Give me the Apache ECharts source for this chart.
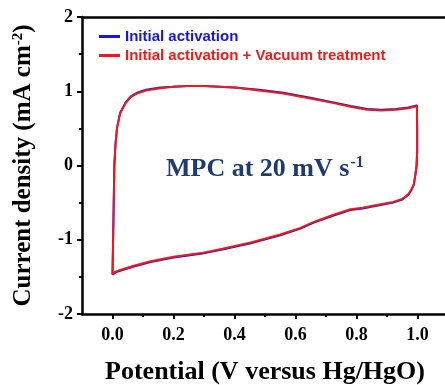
<!DOCTYPE html>
<html>
<head>
<meta charset="utf-8">
<script src="https://cdn.jsdelivr.net/npm/echarts@6/dist/echarts.min.js"></script>
<style>
  html, body { margin: 0; padding: 0; background: #fff; }
  #chart { width: 445px; height: 385px; }
</style>
</head>
<body>
<div id="chart"></div>
<script>
// potential (V) and current density (mA cm-2), anodic then cathodic sweep
const potRed = [0.000, 0.002, 0.004, 0.006, 0.010, 0.015, 0.025, 0.043, 0.060, 0.080, 0.110, 0.157, 0.200, 0.245, 0.300, 0.400, 0.480, 0.560, 0.640, 0.725, 0.780, 0.835, 0.880, 0.930, 0.970, 0.998,
                0.999, 0.999, 0.997, 0.993, 0.988, 0.980, 0.971, 0.950, 0.920, 0.870, 0.820, 0.780, 0.720, 0.660, 0.616, 0.550, 0.450, 0.360, 0.290, 0.200, 0.125, 0.070, 0.030, 0.010, 0.000];
const curRed = [-1.46, -1.00, -0.50, 0.00, 0.30, 0.51, 0.70, 0.84, 0.92, 0.97, 1.01, 1.04, 1.06, 1.07, 1.07, 1.05, 1.01, 0.97, 0.91, 0.84, 0.79, 0.75, 0.74, 0.75, 0.77, 0.80,
                0.50, 0.20, 0.00, -0.12, -0.25, -0.32, -0.38, -0.45, -0.49, -0.53, -0.57, -0.59, -0.67, -0.76, -0.84, -0.93, -1.04, -1.12, -1.18, -1.23, -1.29, -1.35, -1.40, -1.43, -1.46];
const potBlue = [0.000, 0.002, 0.004, 0.006, 0.010, 0.015, 0.025, 0.043, 0.060, 0.080, 0.110, 0.157, 0.200, 0.245, 0.300, 0.400, 0.480, 0.560, 0.640, 0.725, 0.780, 0.835, 0.880, 0.930, 0.970, 0.998,
                 0.999, 0.999, 0.997, 0.993, 0.988, 0.980, 0.971, 0.950, 0.920, 0.870, 0.820, 0.780, 0.720, 0.660, 0.616, 0.550, 0.450, 0.360, 0.290, 0.200, 0.125, 0.070, 0.030, 0.010, 0.000];
const curBlue = [-1.47, -1.00, -0.50, 0.00, 0.30, 0.51, 0.71, 0.85, 0.93, 0.98, 1.02, 1.05, 1.06, 1.07, 1.07, 1.05, 1.02, 0.98, 0.92, 0.85, 0.80, 0.76, 0.75, 0.76, 0.78, 0.81,
                 0.50, 0.20, 0.00, -0.13, -0.26, -0.33, -0.39, -0.46, -0.50, -0.54, -0.58, -0.60, -0.68, -0.77, -0.85, -0.94, -1.05, -1.13, -1.19, -1.24, -1.30, -1.36, -1.41, -1.44, -1.47];

const majorX = [0.0, 0.2, 0.4, 0.6, 0.8, 1.0];
const minorX = [0.1, 0.3, 0.5, 0.7, 0.9];

const seriesNames = ['Initial activation', 'Initial activation + Vacuum treatment'];
const blue = '#1616e0';
const red = '#ec1c1c';

const zip = (xs, ys) => xs.map((x, i) => [x, ys[i]]);

const axisLine = { onZero: false, lineStyle: { color: '#000', width: 2.5 } };
const serif = '"Liberation Serif", "Times New Roman", serif';

const chart = echarts.init(document.getElementById('chart'));
chart.setOption({
  animation: false,
  grid: { left: 82, top: 17, bottom: 71, right: -3, outerBoundsMode: 'none', containLabel: false },
  legend: {
    orient: 'vertical',
    left: 94,
    top: 24,
    itemWidth: 21,
    itemHeight: 3,
    itemGap: 4,
    icon: 'rect',
    textStyle: { fontFamily: '"Liberation Sans", Arial, sans-serif', fontWeight: 'bold', fontSize: 15 },
    data: [
      { name: seriesNames[0], textStyle: { color: blue } },
      { name: seriesNames[1], textStyle: { color: red } }
    ]
  },
  xAxis: [
    {
      type: 'value', min: -0.1, max: 1.1, position: 'bottom',
      name: 'Potential (V versus Hg/HgO)', nameLocation: 'middle', nameGap: 45,
      nameTextStyle: { fontFamily: serif, fontWeight: 'bold', fontSize: 26, color: '#000' },
      axisLine: axisLine,
      splitLine: { show: false },
      axisTick: { customValues: majorX, length: 5, lineStyle: { width: 2, color: '#000' } },
      axisLabel: {
        customValues: majorX, margin: 12,
        formatter: (v) => v.toFixed(1),
        fontFamily: serif, fontWeight: 'bold', fontSize: 18, color: '#000'
      }
    },
    {
      type: 'value', min: -0.1, max: 1.1, position: 'bottom',
      axisLine: { show: false, onZero: false },
      splitLine: { show: false },
      axisTick: { customValues: minorX, length: 3, lineStyle: { width: 2, color: '#000' } },
      axisLabel: { show: false }
    },
    {
      type: 'value', min: -0.1, max: 1.1, position: 'top',
      axisLine: axisLine,
      splitLine: { show: false },
      axisTick: { show: false },
      axisLabel: { show: false }
    }
  ],
  yAxis: {
    type: 'value', min: -2, max: 2, interval: 1,
    name: '{b|Current density (mA cm}{s|-2}{b|)}', nameLocation: 'middle', nameGap: 46,
    nameTextStyle: {
      rich: {
        b: { fontFamily: serif, fontWeight: 'bold', fontSize: 25, color: '#000' },
        s: { fontFamily: serif, fontWeight: 'bold', fontSize: 15, color: '#000', verticalAlign: 'top', padding: [0, 0, 10, 0] }
      }
    },
    axisLine: axisLine,
    splitLine: { show: false },
    axisTick: { length: 5, lineStyle: { width: 2, color: '#000' } },
    minorTick: { show: true, splitNumber: 2, length: 3, lineStyle: { width: 2, color: '#000' } },
    axisLabel: { margin: 9, fontFamily: serif, fontWeight: 'bold', fontSize: 18, color: '#000' }
  },
  graphic: [
    {
      type: 'text', left: 166, top: 155,
      style: {
        text: '{b|MPC at 20 mV s}{s|-1}',
        rich: {
          b: { fontFamily: serif, fontWeight: 'bold', fontSize: 26, fill: '#1f3a6e' },
          s: { fontFamily: serif, fontWeight: 'bold', fontSize: 16, fill: '#1f3a6e', padding: [0, 0, 12, 1] }
        }
      }
    }
  ],
  series: [
    {
      name: seriesNames[0], type: 'line', showSymbol: false, color: blue,
      lineStyle: { width: 2, color: blue },
      data: zip(potBlue, curBlue)
    },
    {
      name: seriesNames[1], type: 'line', showSymbol: false, color: red,
      lineStyle: { width: 2, color: red },
      data: zip(potRed, curRed)
    }
  ]
});
</script>
</body>
</html>
